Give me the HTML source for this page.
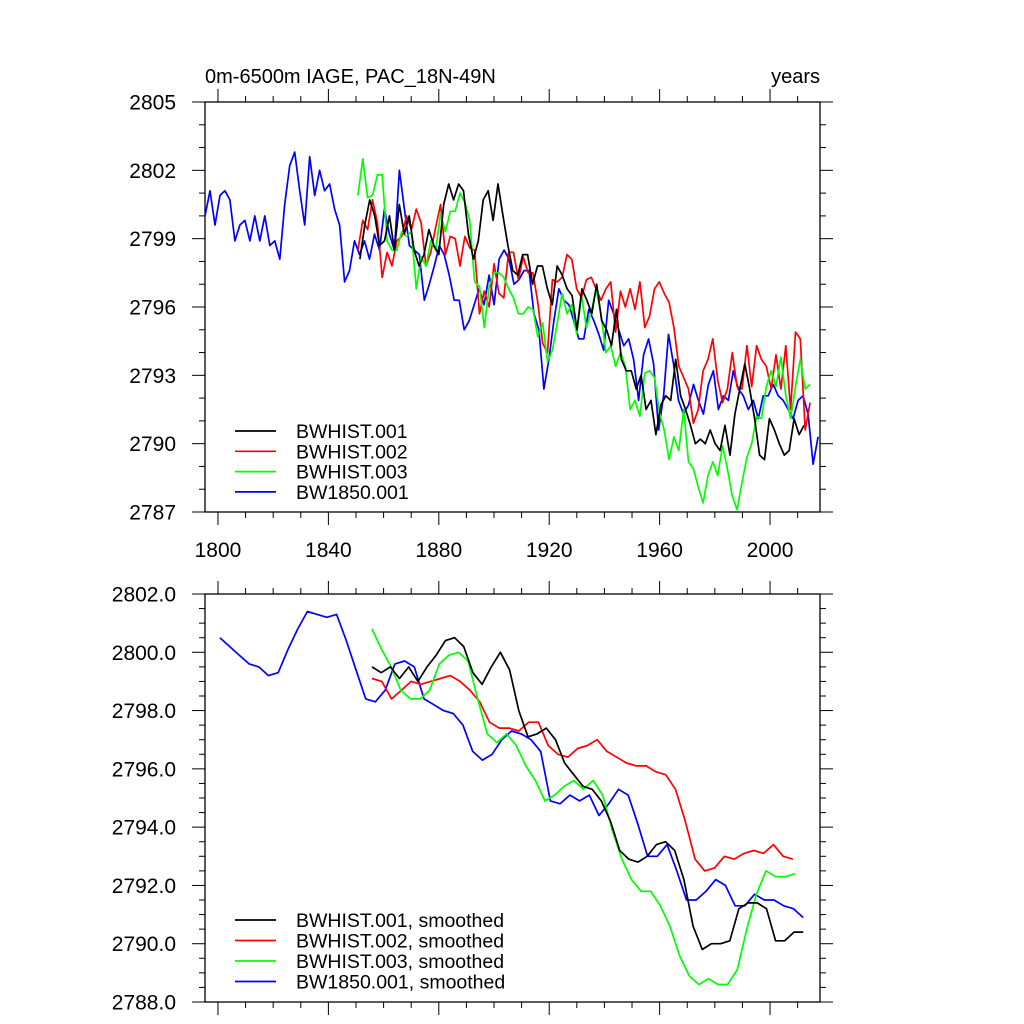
<!DOCTYPE html>
<html><head><meta charset="utf-8"><style>
body{margin:0;background:#fff;}
svg{display:block;font-family:"Liberation Sans",sans-serif;}
</style></head><body>
<svg id="chart" width="1024" height="1024" viewBox="0 0 1024 1024" xmlns="http://www.w3.org/2000/svg">
<rect width="1024" height="1024" fill="#fff"/>
<text x="205" y="83" font-size="20">0m-6500m IAGE, PAC_18N-49N</text>
<text x="820" y="83" font-size="20" text-anchor="end">years</text>
<g id="top"></g>
<g id="bot"></g>
</svg>
<script>
const xTickYears=[1800,1840,1880,1920,1960,2000];
const topYTicks=[2787,2790,2793,2796,2799,2802,2805];
const botYTicks=[2788,2790,2792,2794,2796,2798,2800,2802];
// top panel raw series: [startYear,endYear] + values
const blueSpan=[1795.3,2017.4];
const blueVals=[2800.0,2801.1,2799.6,2800.9,2801.1,2800.7,2798.9,2799.6,2799.8,2798.9,2800.0,2798.9,2800.0,2798.7,2798.9,2798.1,2800.5,2802.2,2802.8,2801.1,2799.6,2802.6,2800.9,2802.0,2801.1,2801.4,2800.3,2799.6,2797.1,2797.6,2798.9,2798.3,2798.9,2798.1,2799.2,2798.5,2800.3,2799.2,2798.5,2802.0,2800.3,2798.7,2798.5,2798.3,2796.3,2797.0,2797.8,2798.7,2798.3,2797.4,2796.3,2796.3,2795.0,2795.4,2796.1,2796.8,2796.1,2797.4,2796.1,2798.1,2798.5,2798.1,2797.0,2797.2,2797.6,2797.6,2795.7,2795.0,2792.4,2793.7,2795.4,2796.8,2796.3,2796.1,2795.4,2794.6,2794.6,2795.9,2795.4,2794.8,2794.1,2796.3,2795.7,2795.0,2794.3,2794.6,2793.7,2791.9,2793.9,2794.6,2793.5,2790.6,2792.1,2794.8,2793.5,2791.9,2791.3,2791.7,2792.6,2791.9,2791.3,2792.6,2793.2,2791.5,2792.1,2791.9,2793.2,2792.4,2792.1,2791.5,2791.9,2791.1,2792.1,2792.1,2792.6,2792.1,2791.9,2791.5,2791.1,2791.9,2792.1,2791.3,2789.1,2790.3];
const blackSpan=[1851.4,2012.3];
const blackVals=[2798.1,2799.6,2800.7,2800.0,2798.7,2798.9,2800.0,2798.5,2800.5,2799.2,2800.0,2798.5,2797.8,2798.3,2799.4,2798.7,2798.3,2800.5,2801.4,2800.7,2801.4,2801.1,2799.2,2798.1,2798.9,2800.7,2801.1,2799.8,2801.4,2800.0,2798.7,2797.6,2797.4,2798.3,2798.3,2797.0,2797.8,2797.8,2796.8,2796.1,2797.8,2797.4,2796.8,2796.5,2795.0,2796.8,2796.3,2795.7,2797.0,2795.4,2795.0,2794.3,2795.9,2793.7,2793.2,2793.2,2792.4,2793.0,2791.5,2791.9,2790.4,2791.7,2792.1,2791.9,2793.7,2792.1,2791.5,2790.8,2790.0,2790.2,2790.0,2790.6,2790.0,2789.7,2790.8,2789.5,2791.3,2792.4,2793.5,2792.4,2791.1,2789.5,2789.3,2791.1,2790.6,2790.0,2789.5,2789.7,2791.1,2790.4,2790.8];
const redSpan=[1850.7,2014.5];
const redVals=[2798.5,2799.8,2799.4,2800.7,2799.7,2797.3,2798.4,2797.8,2798.9,2799.1,2800.0,2799.4,2800.3,2799.7,2797.8,2798.4,2799.5,2800.5,2798.3,2799.1,2799.0,2797.8,2799.1,2798.6,2798.5,2795.7,2796.7,2796.0,2797.9,2796.6,2796.4,2798.4,2798.4,2797.2,2798.2,2797.5,2797.5,2796.2,2794.4,2794.0,2797.2,2797.1,2797.3,2798.3,2798.1,2796.8,2796.4,2797.2,2797.3,2796.8,2796.3,2796.8,2797.1,2794.9,2796.7,2796.0,2796.8,2795.9,2797.1,2795.1,2795.6,2796.8,2797.1,2796.6,2796.2,2795.1,2793.4,2792.9,2792.4,2790.9,2791.5,2793.2,2793.7,2794.6,2792.8,2791.8,2792.4,2794.0,2792.5,2792.4,2794.3,2792.5,2794.3,2793.7,2793.4,2792.4,2793.9,2792.4,2794.3,2791.5,2794.9,2794.6,2790.6,2791.8];
const greenSpan=[1850.7,2014.5];
const greenVals=[2800.9,2802.5,2800.8,2800.9,2801.8,2801.8,2798.9,2798.5,2798.5,2799.3,2799.1,2799.3,2796.8,2798.2,2797.8,2798.9,2798.5,2800.1,2799.3,2800.2,2800.2,2801.0,2800.6,2799.8,2797.1,2796.9,2795.1,2796.9,2797.5,2797.5,2797.3,2796.8,2796.4,2795.7,2795.7,2796.0,2795.9,2794.7,2795.3,2793.6,2794.1,2795.3,2796.6,2795.7,2796.1,2794.8,2796.5,2795.1,2795.8,2796.8,2795.7,2794.0,2794.3,2793.4,2794.0,2793.4,2791.5,2791.9,2791.2,2793.1,2793.2,2792.9,2791.4,2790.6,2789.3,2790.3,2789.7,2791.5,2789.2,2788.9,2788.1,2787.4,2788.6,2789.2,2788.6,2789.9,2788.9,2787.7,2787.1,2788.3,2789.4,2790.0,2791.2,2791.1,2792.5,2793.2,2792.5,2793.8,2792.1,2791.1,2792.5,2793.7,2792.4,2792.6];
// bottom panel smoothed series
const sBlueSpan=[1800.7,2012.0];
const sBlueVals=[2800.5,2800.2,2799.9,2799.6,2799.5,2799.2,2799.3,2800.1,2800.8,2801.4,2801.3,2801.2,2801.3,2800.4,2799.4,2798.4,2798.3,2798.7,2799.6,2799.7,2799.5,2798.4,2798.2,2798.0,2797.9,2797.5,2796.6,2796.3,2796.5,2797.0,2797.3,2797.2,2797.0,2796.6,2794.9,2794.8,2795.1,2794.9,2795.1,2794.4,2794.8,2795.3,2795.1,2794.1,2793.0,2793.0,2793.4,2792.5,2791.5,2791.5,2791.8,2792.2,2792.0,2791.3,2791.3,2791.7,2791.5,2791.5,2791.3,2791.2,2790.9];
const sBlackSpan=[1855.8,2012.0];
const sBlackVals=[2799.5,2799.3,2799.5,2799.1,2799.5,2799.0,2799.5,2799.9,2800.4,2800.5,2800.2,2799.3,2798.9,2799.5,2800.0,2799.4,2798.0,2797.1,2797.2,2797.4,2797.0,2796.2,2795.8,2795.4,2795.3,2794.9,2794.2,2793.2,2792.9,2792.8,2793.0,2793.4,2793.5,2793.2,2792.2,2790.6,2789.8,2790.0,2790.0,2790.1,2791.2,2791.4,2791.4,2791.2,2790.1,2790.1,2790.4,2790.4];
const sRedSpan=[1855.8,2008.3];
const sRedVals=[2799.1,2799.0,2798.4,2798.7,2799.0,2798.9,2799.0,2799.1,2799.2,2799.0,2798.7,2798.3,2797.6,2797.4,2797.4,2797.3,2797.6,2797.6,2796.8,2796.5,2796.4,2796.7,2796.8,2797.0,2796.6,2796.4,2796.2,2796.1,2796.1,2795.9,2795.8,2795.3,2794.2,2792.9,2792.5,2792.6,2793.0,2792.9,2793.1,2793.2,2793.1,2793.4,2793.0,2792.9];
const sGreenSpan=[1855.8,2009.0];
const sGreenVals=[2800.8,2800.1,2799.5,2798.7,2798.4,2798.4,2798.7,2799.6,2799.9,2800.0,2799.7,2798.4,2797.2,2796.9,2797.2,2796.8,2796.1,2795.6,2794.9,2795.1,2795.4,2795.6,2795.3,2795.6,2795.1,2793.9,2792.9,2792.2,2791.8,2791.8,2791.3,2790.6,2789.6,2788.9,2788.6,2788.8,2788.6,2788.6,2789.1,2790.5,2791.7,2792.5,2792.3,2792.3,2792.4];

const NS='http://www.w3.org/2000/svg';
function mk(parent,tag,attrs){const e=document.createElementNS(NS,tag);for(const k in attrs)e.setAttribute(k,attrs[k]);parent.appendChild(e);return e;}
const X0=205,X1=820,YR0=1795.3,YR1=2018.1;
function xs(yr){return X0+(yr-YR0)/(YR1-YR0)*(X1-X0);}

function panel(g,top,bottom,ymin,ymax,yticks,minorStep,fmt,showXLabels){
  const ys=v=>bottom-(v-ymin)/(ymax-ymin)*(bottom-top);
  const frame=mk(g,'rect',{x:X0,y:top,width:X1-X0,height:bottom-top,fill:'none',stroke:'#000','stroke-width':1.3});
  
  
  for(let v=ymin;v<=ymax+1e-6;v+=minorStep){
    const y=ys(v);const major=yticks.some(t=>Math.abs(t-v)<1e-6);const L=major?13:6;
    const t1=mk(g,'line',{x1:X0-L,x2:X0,y1:y,y2:y,stroke:'#000','stroke-width':1});
    
    
    const t2=mk(g,'line',{x1:X1,x2:X1+L,y1:y,y2:y,stroke:'#000','stroke-width':1});
    
    
  }
  yticks.forEach(v=>{
    const t=mk(g,'text',{x:X0-29,y:ys(v)+7.5,'font-size':21,'text-anchor':'end'});
    t.textContent=fmt(v);
    
    
  });
  for(let yr=1800;yr<=2010;yr+=10){
    const x=xs(yr);const major=xTickYears.includes(yr);const L=major?13:6;
    const a=mk(g,'line',{x1:x,x2:x,y1:bottom,y2:bottom+L,stroke:'#000','stroke-width':1});
    
    
    const b=mk(g,'line',{x1:x,x2:x,y1:top-L,y2:top,stroke:'#000','stroke-width':1});
    
    
  }
  if(showXLabels){xTickYears.forEach(yr=>{
    const t=mk(g,'text',{x:xs(yr),y:bottom+45,'font-size':21,'text-anchor':'middle'});
    t.textContent=yr;
    
    
  });}
  return ys;
}
function series(g,ys,span,vals,color,name){
  const n=vals.length;const pts=vals.map((v,i)=>{const yr=span[0]+(span[1]-span[0])*i/(n-1);return xs(yr).toFixed(1)+','+ys(v).toFixed(1);});
  const p=mk(g,'polyline',{points:pts.join(' '),fill:'none',stroke:color,'stroke-width':1.7,'stroke-linejoin':'round'});
  
  
}
function legend(g,y0,labels,colors,dy){
  labels.forEach((l,i)=>{
    const y=y0+i*dy;
    const ln=mk(g,'line',{x1:235,x2:276,y1:y,y2:y,stroke:colors[i],'stroke-width':1.7});
    
    
    const t=mk(g,'text',{x:296,y:y+7,'font-size':19.5});
    t.textContent=l;
    
    
  });
}
const gt=document.getElementById('top'),gb=document.getElementById('bot');
const ysT=panel(gt,102,512,2787,2805,topYTicks,1,v=>String(v),true);
series(gt,ysT,blueSpan,blueVals,'#0000ff','series-bw1850-001');
series(gt,ysT,redSpan,redVals,'#ff0000','series-bwhist-002');
series(gt,ysT,greenSpan,greenVals,'#00ff00','series-bwhist-003');
series(gt,ysT,blackSpan,blackVals,'#000000','series-bwhist-001');
legend(gt,431,['BWHIST.001','BWHIST.002','BWHIST.003','BW1850.001'],['#000','#f00','#0f0','#00f'],20.3);
const ysB=panel(gb,594,1002,2788,2802,botYTicks,0.5,v=>v.toFixed(1),false);
series(gb,ysB,sBlueSpan,sBlueVals,'#0000ff','smoothed-bw1850-001');
series(gb,ysB,sRedSpan,sRedVals,'#ff0000','smoothed-bwhist-002');
series(gb,ysB,sGreenSpan,sGreenVals,'#00ff00','smoothed-bwhist-003');
series(gb,ysB,sBlackSpan,sBlackVals,'#000000','smoothed-bwhist-001');
legend(gb,920,['BWHIST.001, smoothed','BWHIST.002, smoothed','BWHIST.003, smoothed','BW1850.001, smoothed'],['#000','#f00','#0f0','#00f'],20.5);
</script>
</body></html>
